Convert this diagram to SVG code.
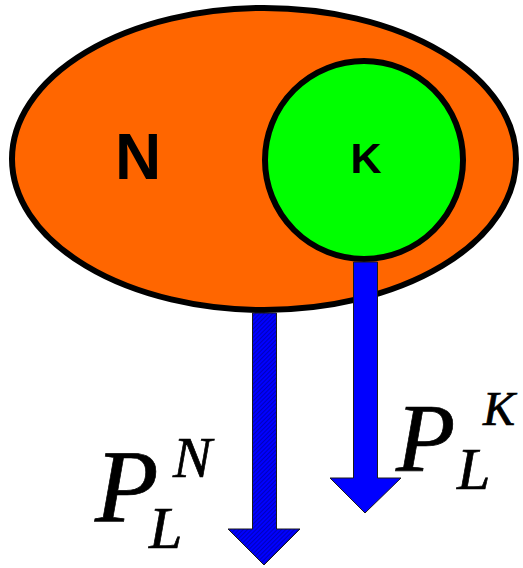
<svg xmlns="http://www.w3.org/2000/svg" width="523" height="568" viewBox="0 0 523 568">
<defs>
<pattern id="hatch" patternUnits="userSpaceOnUse" width="3" height="3" patternTransform="rotate(45)">
<rect width="3" height="3" fill="#0000FF"/>
<line x1="0" y1="0" x2="0" y2="3" stroke="#00007A" stroke-width="1"/>
</pattern>
<style>
.blob{stroke:#000;stroke-width:6}
.arrow{stroke:#1a1a1a;stroke-width:1}
.lbl{font-family:"Liberation Sans",Arial,sans-serif;font-weight:bold;fill:#000}
.math{font-family:"Liberation Serif","Times New Roman",serif;font-style:italic;fill:#000;stroke:#000;stroke-width:0.7}
</style>
</defs>
<g id="N">
<ellipse class="blob" cx="264" cy="159" rx="252" ry="151" fill="#FF6600"/>
<text class="lbl" x="138" y="179" font-size="64" text-anchor="middle">N</text>
</g>
<g id="K">
<circle class="blob" cx="364" cy="160" r="99" fill="#00FF00"/>
<text class="lbl" x="366" y="173" font-size="43" text-anchor="middle">K</text>
</g>
<g id="connectors">
<path class="arrow" fill="url(#hatch)" d="M252.5 313 H276.5 V529 H300 L264 565 L228 529 H252.5 Z"/>
<path class="arrow" fill="#0000FF" d="M353.5 262 H377.5 V478 H401 L365 513 L330 478 H353.5 Z"/>
</g>
<g id="PLN">
<text class="math" x="95" y="522" font-size="104">P</text>
<text class="math" x="149" y="548" font-size="60">L</text>
<text class="math" x="173" y="477" font-size="58">N</text>
</g>
<g id="PLK">
<text class="math" x="396" y="471" font-size="97">P</text>
<text class="math" x="457" y="489" font-size="60">L</text>
<text class="math" x="483" y="425" font-size="48">K</text>
</g>
</svg>
